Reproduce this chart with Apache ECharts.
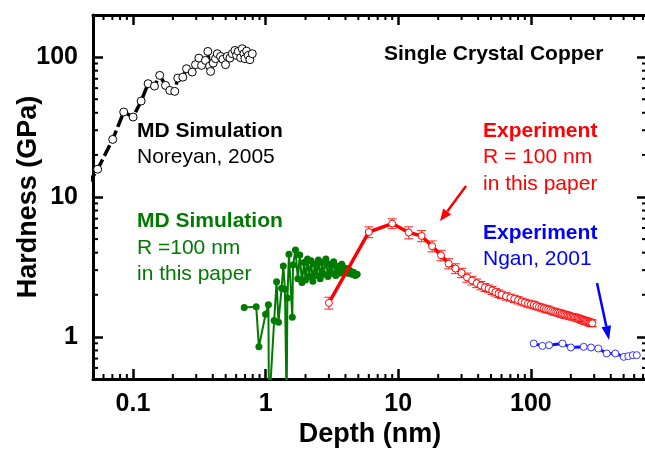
<!DOCTYPE html>
<html>
<head>
<meta charset="utf-8">
<script src="https://cdn.jsdelivr.net/npm/echarts@6/dist/echarts.min.js"></script>
<style>html,body{margin:0;padding:0;background:#fff}#c{width:645px;height:450px}</style>
</head>
<body>
<div id="c"></div>
<script>
// ---- Axis ranges and ticks ----
const X_RANGE = [0.05, 750];
const Y_RANGE = [0.5, 200];
const X_MINOR = [0.06,0.07,0.08,0.09,0.2,0.3,0.4,0.5,0.6,0.7,0.8,0.9,2,3,4,5,6,7,8,9,20,30,40,50,60,70,80,90,200,300,400,500,600,700];
const Y_MINOR = [0.6,0.7,0.8,0.9,2,3,4,5,6,7,8,9,20,30,40,50,60,70,80,90];
const X_TICK_LABELS = ['0.1','1','10','100'];
const Y_TICK_LABELS = ['1','10','100'];

// ---- MD Simulation, Noreyan 2005 (black) ----
const BLACK_X = [0.046,0.0542,0.0704,0.0852,0.1003,0.1153,0.1302,0.1453,0.1592,0.176,0.1896,0.2066,0.2178,0.2376,0.2535,0.2798,0.2963,0.314,0.329,0.352,0.367,0.378,0.385,0.403,0.419,0.432,0.457,0.476,0.499,0.514,0.538,0.561,0.587,0.604,0.622,0.648,0.667,0.686,0.698,0.719,0.74,0.761,0.794];
const BLACK_H = [12.5,15.8,25.8,40.5,37.3,48.5,64.6,62.1,74.0,62.8,57.8,56.9,70.8,71.9,82.6,78.2,88.3,98.4,87.3,94.7,109.8,86.2,79.0,90.6,97.5,105.7,101.1,96.4,88.3,101.1,98.4,105.7,111.6,102.8,109.8,99.0,114.8,105.7,97.5,110.4,102.8,95.8,105.7];

// ---- MD Simulation, R = 100 nm, this paper (green) ----
const GREEN_X = [0.69,0.85,0.89,1.0,1.05,1.06,1.16,1.21,1.25,1.32,1.36,1.40,1.44,1.46,1.50,1.59,1.61,1.68,1.75,1.81,1.88,1.95,2.0,2.07,2.13,2.2,2.27,2.35,2.42,2.5,2.58,2.66,2.75,2.85,2.95,3.05,3.15,3.26,3.38,3.5,3.62,3.75,3.88,4.0,4.15,4.3,4.45,4.6,4.75,4.9];
const GREEN_H = [1.62,1.64,0.85,1.45,1.70,0.3,1.31,2.48,1.27,2.23,3.21,2.19,0.3,1.9,3.90,1.38,3.27,4.18,2.6,3.85,2.45,3.4,2.55,3.6,2.7,3.5,2.5,3.3,2.75,3.55,2.6,3.4,2.8,3.6,2.7,3.3,2.85,3.45,2.75,3.2,2.85,3.3,2.9,3.1,2.85,3.0,2.8,2.9,2.75,2.8];

// ---- Experiment, R = 100 nm, this paper (red) ----
const RED_X = [3,6,9,12,15,18,21,24,27,30,33,36,39,42,45,48,51,54,57,60,65,70,75,80,85,90,95,100,105,110,115,120,125,130,135,140,145,150,155,160,165,170,175,180,185,190,195,200,205,210,215,220,225,230,235,240,245,250,255,260,265,270,275,280,285,290];
const RED_H = [1.75,5.62,6.46,5.57,5.27,4.45,3.83,3.34,3.08,2.87,2.66,2.53,2.42,2.33,2.26,2.21,2.15,2.09,2.04,2.00,1.95,1.91,1.87,1.83,1.79,1.76,1.73,1.71,1.69,1.66,1.64,1.62,1.60,1.58,1.57,1.55,1.53,1.51,1.50,1.49,1.48,1.46,1.45,1.44,1.43,1.42,1.41,1.40,1.39,1.39,1.38,1.37,1.36,1.35,1.34,1.33,1.32,1.31,1.30,1.30,1.29,1.28,1.27,1.26,1.26,1.25];
const RED_ERR = [0.17,0.50,0.52,0.55,0.48,0.40,0.33,0.28,0.25,0.22,0.20,0.18,0.17,0.16,0.15,0.14,0.14,0.13,0.13,0.12,0.12,0.11,0.11,0.11,0.10,0.10,0.10,0.10,0.10,0.09,0.09,0.09,0.09,0.09,0.09,0.08,0.08,0.08,0.08,0.08,0.08,0.08,0.08,0.08,0.08,0.07,0.07,0.07,0.07,0.07,0.07,0.07,0.07,0.07,0.07,0.07,0.07,0.07,0.07,0.07,0.07,0.07,0.07,0.07,0.07,0.07];

// ---- Experiment, Ngan 2001 (blue) ----
const BLUE_X = [105,122,137,173,200,250,284,322,373,433,501,542,586,628];
const BLUE_H = [0.897,0.862,0.872,0.897,0.840,0.849,0.840,0.826,0.761,0.761,0.720,0.728,0.740,0.740];

const FONT = 'Liberation Sans, Arial, Helvetica, sans-serif';
const zip = (a, b) => a.map((v, i) => [v, b[i]]);
const isPow10 = v => Math.abs(Math.log10(v) - Math.round(Math.log10(v))) < 1e-6;
function fmtTick(labels) {
  return v => {
    if (!isPow10(v)) return '';
    const e = Math.round(Math.log10(v));
    const s = e < 0 ? (e === -1 ? '0.1' : String(v)) : String(Math.pow(10, e));
    return labels.includes(s) ? s : '';
  };
}

const axisLineStyle = { lineStyle: { color: '#000', width: 3 } };
const majorTick = { show: true, inside: true, length: 10, lineStyle: { color: '#000', width: 2.5 } };
const labelStyle = { fontFamily: FONT, fontWeight: 'bold', fontSize: 25, color: '#000' };

const chart = echarts.init(document.getElementById('c'), null, { renderer: 'canvas' });

const option = {
  animation: false,
  backgroundColor: '#fff',
  grid: { left: 93, right: -2, top: 15, bottom: 71, containLabel: false, outerBoundsMode: 'none' },
  xAxis: [
    { type: 'log', logBase: 10, min: X_RANGE[0], max: X_RANGE[1], position: 'bottom',
      axisLine: axisLineStyle, axisTick: majorTick, splitLine: { show: false },
      axisLabel: Object.assign({ margin: 13, formatter: fmtTick(X_TICK_LABELS) }, labelStyle),
      name: 'Depth (nm)', nameLocation: 'middle', nameGap: 42, nameMoveOverlap: false,
      nameTextStyle: { fontFamily: FONT, fontWeight: 'bold', fontSize: 27, color: '#000' } },
    { type: 'log', logBase: 10, min: X_RANGE[0], max: X_RANGE[1], position: 'top',
      axisLine: axisLineStyle, axisTick: majorTick, splitLine: { show: false },
      axisLabel: { show: false } }
  ],
  yAxis: [
    { type: 'log', logBase: 10, min: Y_RANGE[0], max: Y_RANGE[1], position: 'left',
      axisLine: axisLineStyle, axisTick: majorTick, splitLine: { show: false },
      axisLabel: Object.assign({ margin: 15, formatter: fmtTick(Y_TICK_LABELS) }, labelStyle),
      name: 'Hardness (GPa)', nameLocation: 'middle', nameGap: 51, nameMoveOverlap: false,
      nameTextStyle: { fontFamily: FONT, fontWeight: 'bold', fontSize: 27, color: '#000' } },
    { type: 'log', logBase: 10, min: Y_RANGE[0], max: Y_RANGE[1], position: 'right',
      axisLine: axisLineStyle, axisTick: majorTick, splitLine: { show: false },
      axisLabel: { show: false } }
  ],
  series: [
    { name: 'MD Noreyan', type: 'line', data: zip(BLACK_X, BLACK_H), z: 3,
      lineStyle: { color: '#000', width: 3.5, type: [12, 4] },
      symbol: 'circle', symbolSize: 8, showAllSymbol: true,
      itemStyle: { color: '#fff', borderColor: '#000', borderWidth: 1 } },
    { name: 'MD this paper', type: 'line', data: zip(GREEN_X, GREEN_H), z: 4,
      lineStyle: { color: '#007a00', width: 2 },
      symbol: 'circle', symbolSize: 7, showAllSymbol: true,
      itemStyle: { color: '#007a00', borderColor: '#007a00', borderWidth: 0 } },
    { name: 'Exp error', type: 'custom', z: 5, clip: true,
      data: RED_X.map((x, i) => [x, RED_H[i] - RED_ERR[i], RED_H[i] + RED_ERR[i]]),
      encode: { x: 0, y: [1, 2] },
      renderItem: (params, api) => {
        const lo = api.coord([api.value(0), api.value(1)]);
        const hi = api.coord([api.value(0), api.value(2)]);
        const w = 4.5;
        const st = { stroke: '#ff2020', lineWidth: 1 };
        return { type: 'group', children: [
          { type: 'line', shape: { x1: lo[0], y1: lo[1], x2: hi[0], y2: hi[1] }, style: st },
          { type: 'line', shape: { x1: lo[0] - w, y1: lo[1], x2: lo[0] + w, y2: lo[1] }, style: st },
          { type: 'line', shape: { x1: hi[0] - w, y1: hi[1], x2: hi[0] + w, y2: hi[1] }, style: st }
        ] };
      } },
    { name: 'Exp this paper', type: 'line', data: zip(RED_X, RED_H), z: 6,
      lineStyle: { color: '#ff0000', width: 3.5 },
      symbol: 'circle', symbolSize: 7, showAllSymbol: true,
      itemStyle: { color: '#fff', borderColor: '#ff0000', borderWidth: 1 } },
    { name: 'Exp Ngan', type: 'line', data: zip(BLUE_X, BLUE_H), z: 6,
      lineStyle: { color: '#1010ff', width: 3 },
      symbol: 'circle', symbolSize: 7, showAllSymbol: true,
      itemStyle: { color: '#fff', borderColor: '#3535ff', borderWidth: 1 } },
    { name: 'x minor ticks', type: 'custom', z: 10, clip: false, silent: true,
      data: X_MINOR.map(v => [v, Y_RANGE[0]]),
      renderItem: (params, api) => {
        const v = api.value(0);
        const b = api.coord([v, Y_RANGE[0]]);
        const t = api.coord([v, Y_RANGE[1]]);
        const st = { stroke: '#000', lineWidth: 2 };
        return { type: 'group', children: [
          { type: 'line', shape: { x1: b[0], y1: b[1], x2: b[0], y2: b[1] - 5 }, style: st },
          { type: 'line', shape: { x1: t[0], y1: t[1], x2: t[0], y2: t[1] + 5 }, style: st }
        ] };
      } },
    { name: 'y minor ticks', type: 'custom', z: 10, clip: false, silent: true,
      data: Y_MINOR.map(v => [X_RANGE[0], v]),
      renderItem: (params, api) => {
        const v = api.value(1);
        const l = api.coord([X_RANGE[0], v]);
        const r = api.coord([X_RANGE[1], v]);
        const st = { stroke: '#000', lineWidth: 2 };
        return { type: 'group', children: [
          { type: 'line', shape: { x1: l[0], y1: l[1], x2: l[0] + 5, y2: l[1] }, style: st },
          { type: 'line', shape: { x1: r[0], y1: r[1], x2: r[0] - 5, y2: r[1] }, style: st }
        ] };
      } }
  ],
  graphic: [
    { type: 'text', x: 384, y: 54.5, style: { text: 'Single Crystal Copper', font: 'bold 21px ' + FONT, fill: '#000', verticalAlign: 'middle' } },
    { type: 'text', x: 137, y: 131, style: { text: 'MD Simulation', font: 'bold 21px ' + FONT, fill: '#000', verticalAlign: 'middle' } },
    { type: 'text', x: 137, y: 157, style: { text: 'Noreyan, 2005', font: '21px ' + FONT, fill: '#000', verticalAlign: 'middle' } },
    { type: 'text', x: 137, y: 221, style: { text: 'MD Simulation', font: 'bold 21px ' + FONT, fill: '#007a00', verticalAlign: 'middle' } },
    { type: 'text', x: 137, y: 248, style: { text: 'R =100 nm', font: '21px ' + FONT, fill: '#007a00', verticalAlign: 'middle' } },
    { type: 'text', x: 137, y: 274.5, style: { text: 'in this paper', font: '21px ' + FONT, fill: '#007a00', verticalAlign: 'middle' } },
    { type: 'text', x: 483, y: 131, style: { text: 'Experiment', font: 'bold 21px ' + FONT, fill: '#ff0000', verticalAlign: 'middle' } },
    { type: 'text', x: 483, y: 157.5, style: { text: 'R = 100 nm', font: '21px ' + FONT, fill: '#ff0000', verticalAlign: 'middle' } },
    { type: 'text', x: 483, y: 184.5, style: { text: 'in this paper', font: '21px ' + FONT, fill: '#ff0000', verticalAlign: 'middle' } },
    { type: 'text', x: 483, y: 233.5, style: { text: 'Experiment', font: 'bold 21px ' + FONT, fill: '#0000ff', verticalAlign: 'middle' } },
    { type: 'text', x: 483, y: 259.5, style: { text: 'Ngan, 2001', font: '21px ' + FONT, fill: '#0000ff', verticalAlign: 'middle' } },
    // red arrow
    { type: 'line', shape: { x1: 466, y1: 186, x2: 447.2, y2: 211.4 }, style: { stroke: '#ff0000', lineWidth: 2.5 } },
    { type: 'polygon', shape: { points: [[440, 221], [451.2, 214.4], [443.2, 208.4]] }, style: { fill: '#ff0000' } },
    // blue arrow
    { type: 'line', shape: { x1: 597, y1: 283, x2: 606.3, y2: 326.3 }, style: { stroke: '#0000ff', lineWidth: 2.5 } },
    { type: 'polygon', shape: { points: [[609, 340], [611, 325.3], [601.6, 327.3]] }, style: { fill: '#0000ff' } }
  ]
};
chart.setOption(option);
</script>
</body>
</html>
